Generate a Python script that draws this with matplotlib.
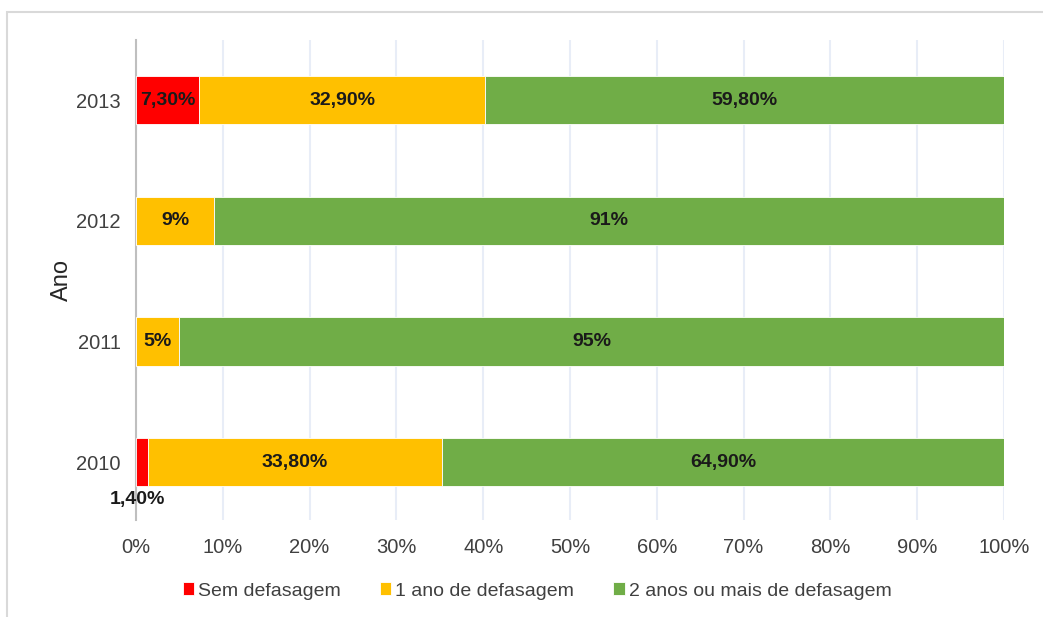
import matplotlib.pyplot as plt
from matplotlib.patches import Rectangle
import numpy as np

plt.rcParams['font.family'] = ['Liberation Sans', 'DejaVu Sans']

anos = ['2010', '2011', '2012', '2013']
sem_defasagem = [1.4, 0, 0, 7.3]
um_ano = [33.8, 5, 9, 32.9]
dois_ou_mais = [64.9, 95, 91, 59.8]

rotulos_sem = ['1,40%', '', '', '7,30%']
rotulos_um = ['33,80%', '5%', '9%', '32,90%']
rotulos_dois = ['64,90%', '95%', '91%', '59,80%']

series = ['Sem defasagem', '1 ano de defasagem', '2 anos ou mais de defasagem']
cores = ['#FF0000', '#FFC000', '#70AD47']

fig = plt.figure(figsize=(10.43, 6.17), dpi=100)
ax = fig.add_axes([136 / 1043, 1 - 520 / 617, 868 / 1043, 480 / 617])

# moldura do grafico
fig.patches.append(Rectangle((7 / 1043, -0.1), 1.2, 1.1 - 13 / 617 + 0.001,
                             transform=fig.transFigure, fill=False,
                             edgecolor='#d9d9d9', lw=1.5, zorder=0))

y = np.arange(len(anos))
esq = np.zeros(len(anos))
valores = [sem_defasagem, um_ano, dois_ou_mais]
rotulos = [rotulos_sem, rotulos_um, rotulos_dois]
for vals, cor, nome, rot in zip(valores, cores, series, rotulos):
    vals = np.array(vals)
    ax.barh(y, vals, left=esq, height=0.4, color=cor, edgecolor='white',
            linewidth=0.6, label=nome, zorder=3)
    for i, (v, r) in enumerate(zip(vals, rot)):
        if not r:
            continue
        if anos[i] == '2010' and nome == 'Sem defasagem':
            # rotulo pequeno fica abaixo da barra
            ax.text(esq[i] + v / 2 - 0.5, y[i] - 0.31, r, ha='center', va='center',
                    fontsize=14, fontweight='bold', color='#1a1a1a', zorder=4)
        else:
            ax.text(esq[i] + v / 2, y[i], r, ha='center', va='center',
                    fontsize=14, fontweight='bold', color='#1a1a1a', zorder=4)
    esq = esq + vals

ax.set_xlim(0, 100)
ax.set_ylim(-0.48, 3.5)
ax.set_xticks(np.arange(0, 101, 10))
ax.set_xticklabels([f'{t}%' for t in range(0, 101, 10)])
ax.set_yticks(y)
ax.set_yticklabels(anos)
ax.tick_params(length=0, labelsize=14.5, colors='#404040', pad=11)
ax.tick_params(axis='x', pad=13)
ax.grid(axis='x', color='#e8edf7', lw=1.5, zorder=0)
for s in ['top', 'right', 'bottom']:
    ax.spines[s].set_visible(False)
ax.spines['left'].set_color('#bfbfbf')
ax.spines['left'].set_linewidth(1.5)
ax.set_ylabel('Ano', fontsize=17, color='#262626', labelpad=2)

fig.legend(loc='center', bbox_to_anchor=(537 / 1043, 1 - 591 / 617), ncol=3,
           frameon=False, fontsize=14, handlelength=0.6, handleheight=0.6,
           handletextpad=0.2, columnspacing=2.0, labelcolor='#404040')

fig.savefig('out.png', dpi=100)
